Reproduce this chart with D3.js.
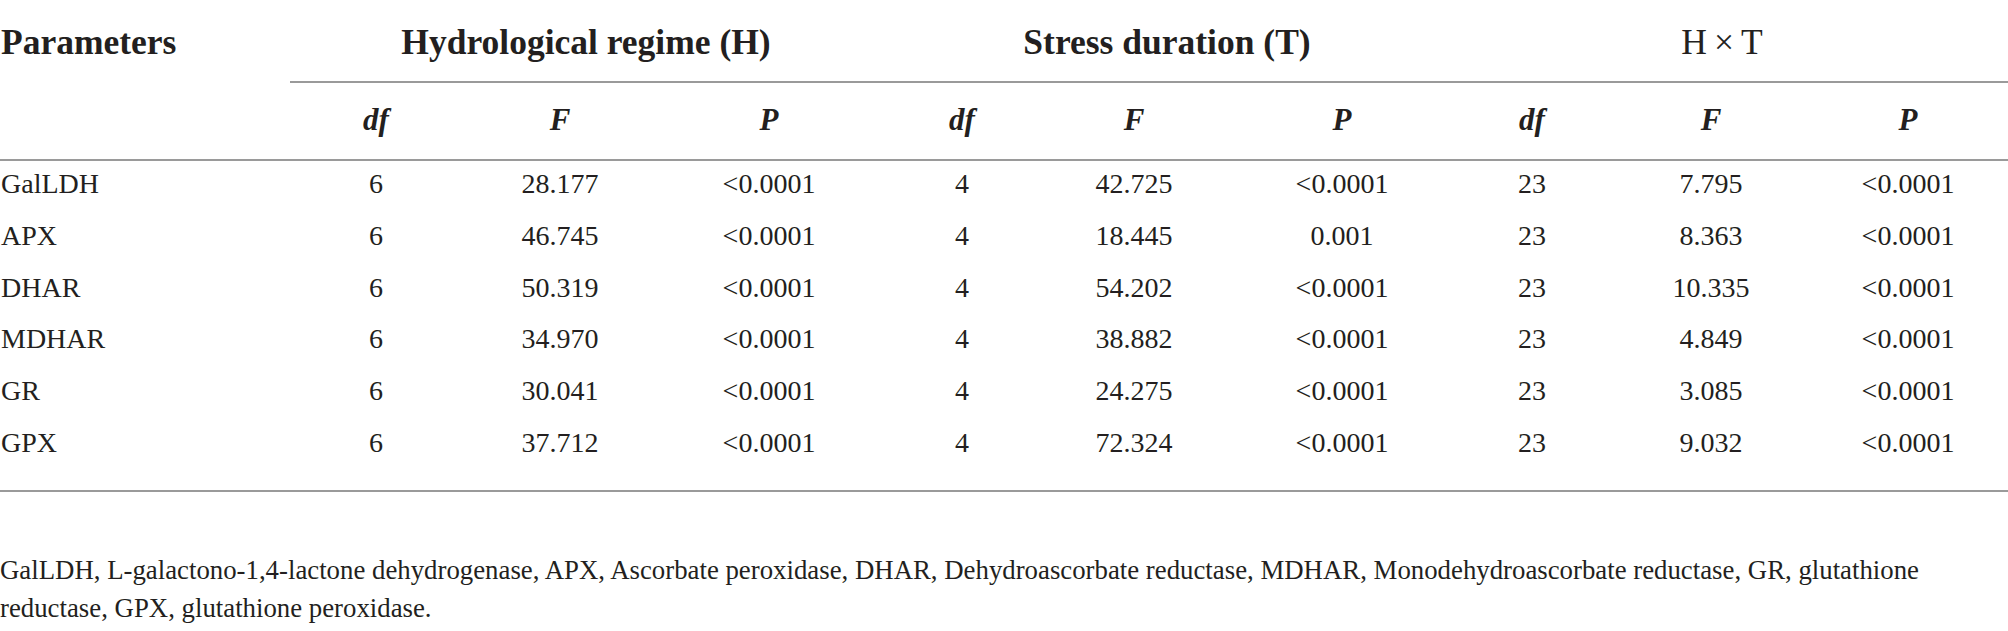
<!DOCTYPE html>
<html><head><meta charset="utf-8">
<script src="https://cdn.jsdelivr.net/npm/d3@7"></script>
<style>
html,body{margin:0;padding:0;background:#fff;}
svg{display:block;}
text{font-family:"Liberation Serif","Times New Roman",serif;fill:#231f20;}
</style></head>
<body>
<svg id="chart" width="2008" height="631"></svg>
<script>
// ---- data ----
const parameters = ["GalLDH","APX","DHAR","MDHAR","GR","GPX"];
const groupHeaders = ["Hydrological regime (H)","Stress duration (T)","H\u2009×\u2009T"];
const subHeaders = ["df","F","P"];
const dfH  = ["6","6","6","6","6","6"];
const FH   = ["28.177","46.745","50.319","34.970","30.041","37.712"];
const PH   = ["<0.0001","<0.0001","<0.0001","<0.0001","<0.0001","<0.0001"];
const dfT  = ["4","4","4","4","4","4"];
const FT   = ["42.725","18.445","54.202","38.882","24.275","72.324"];
const PT   = ["<0.0001","0.001","<0.0001","<0.0001","<0.0001","<0.0001"];
const dfHT = ["23","23","23","23","23","23"];
const FHT  = ["7.795","8.363","10.335","4.849","3.085","9.032"];
const PHT  = ["<0.0001","<0.0001","<0.0001","<0.0001","<0.0001","<0.0001"];
const footnoteLines = [
  "GalLDH, L-galactono-1,4-lactone dehydrogenase, APX, Ascorbate peroxidase, DHAR, Dehydroascorbate reductase, MDHAR, Monodehydroascorbate reductase, GR, glutathione",
  "reductase, GPX, glutathione peroxidase."
];

// ---- layout ----
const svg = d3.select("#chart");
const W = 2008;
const columns = [dfH, FH, PH, dfT, FT, PT, dfHT, FHT, PHT];
const colKeys = d3.range(columns.length);
const x = d3.scaleOrdinal().domain(colKeys).range([376, 560, 769, 962, 1134, 1342, 1532, 1711, 1908]);
const gx = d3.scaleOrdinal().domain([0,1,2]).range([586, 1167, 1722]);
const y = d3.scaleLinear().domain([0, parameters.length - 1]).range([193, 452]);

const lineColor = "#9a9a9a";
function hline(x1, x2, yy){
  svg.append("line").attr("x1", x1).attr("x2", x2).attr("y1", yy).attr("y2", yy)
    .attr("stroke", lineColor).attr("stroke-width", 2);
}
hline(290, W, 82);
hline(0, W, 160);
hline(0, W, 491);

// header row
svg.append("text").attr("x", 1).attr("y", 54)
  .attr("font-size", 35.5).attr("font-weight", "bold").text("Parameters");
svg.selectAll("text.grp").data(groupHeaders).join("text").attr("class","grp")
  .attr("x", (d,i) => gx(i)).attr("y", 54).attr("text-anchor","middle")
  .attr("font-size", 35.5).attr("font-weight", (d,i) => i === 2 ? "normal" : "bold")
  .text(d => d);

// sub headers
svg.selectAll("text.sub").data(colKeys).join("text").attr("class","sub")
  .attr("x", d => x(d)).attr("y", 130).attr("text-anchor","middle")
  .attr("font-size", 31).attr("font-weight","bold").attr("font-style","italic")
  .text(d => subHeaders[d % 3]);

// parameter names
svg.selectAll("text.param").data(parameters).join("text").attr("class","param")
  .attr("x", 1).attr("y", (d,i) => y(i)).attr("font-size", 28).text(d => d);

// values
const cells = [];
columns.forEach((col, c) => col.forEach((v, r) => cells.push({c, r, v})));
svg.selectAll("text.cell").data(cells).join("text").attr("class","cell")
  .attr("x", d => x(d.c)).attr("y", d => y(d.r)).attr("text-anchor","middle")
  .attr("font-size", 28).text(d => d.v);

// footnote
const fnY = d3.scaleLinear().domain([0,1]).range([579, 617]);
const fn = svg.selectAll("text.fn").data(footnoteLines).join("text").attr("class","fn")
  .attr("x", 0).attr("y", (d,i) => fnY(i)).attr("font-size", 27).text(d => d);
const w0 = fn.nodes()[0].getComputedTextLength();
const sx = 1920 / w0;
fn.attr("transform", (d,i) => `translate(0,${fnY(i)}) scale(${sx},1) translate(0,${-fnY(i)})`);
</script>
</body></html>
